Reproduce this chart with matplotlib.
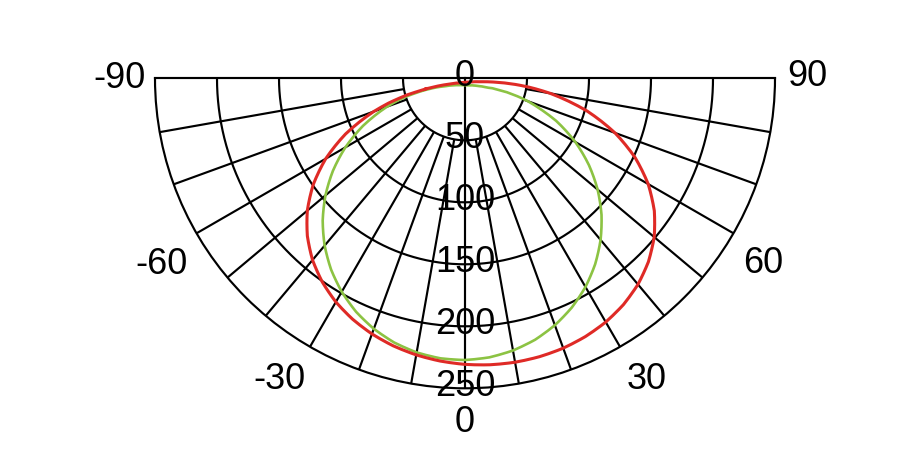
import numpy as np
import matplotlib
matplotlib.use('Agg')
import matplotlib.pyplot as plt
from matplotlib.transforms import offset_copy

plt.rcParams['font.family'] = ['Liberation Sans', 'DejaVu Sans']
plt.rcParams['font.size'] = 26

# ---------------- data ----------------
r_max = 250
ring_values = [50, 100, 150, 200]
radial_label_values = [0, 50, 100, 150, 200, 250]
radial_labels = ['0', '50', '100', '150', '200', '250']
spoke_angles = [-80, -70, -60, -50, -40, -30, -20, -10, 0, 10, 20, 30, 40, 50, 60, 70, 80]

angle_labels = ['-90', '-60', '-30', '0', '30', '60', '90']
angle_label_theta = [-90.6, -59.0, -32.0, 0.0, 31.4, 58.6, 90.8]
angle_label_r = [279.0, 285.5, 283.0, 275.0, 281.0, 281.5, 276.0]

# red curve (closed outline, angle in degrees, intensity)
red_theta = [-74.9, -74, -72, -70, -65, -60, -55, -50, -45, -40, -35, -30, -25, -20,
             -15, -10, -5, 0, 5, 10, 15, 20, 25, 30, 35, 40, 45, 50, 55, 60, 65, 70,
             75, 80, 82, 83, 83.34,
             83, 82, 80, 75, 70, 60, 45, 30, 0, -30, -45, -60, -65, -70, -72, -74, -74.9]
red_value = [32.5, 48.5, 65.0, 78.3, 106.3, 129.7, 149.4, 166.0, 179.8, 191.3, 200.6,
             208.3, 214.4, 219.4, 223.4, 226.5, 228.9, 230.7, 231.9, 232.5, 232.4, 231.6,
             229.8, 227.0, 222.8, 217.0, 209.2, 199.2, 186.4, 170.6, 151.4, 128.7, 101.9,
             69.7, 53.5, 42.1, 33.0,
             25.7, 20.2, 15.4, 10.4, 8.0, 5.7, 4.2, 3.5, 3.1, 3.8, 4.8, 7.5, 9.4, 13.2,
             16.0, 21.7, 32.5]

# green curve (closed outline)
green_theta = [-73.75, -73, -72, -70, -65, -60, -55, -50, -45, -40, -35, -30, -25, -20,
               -15, -10, -5, 0, 5, 10, 15, 20, 25, 30, 35, 40, 45, 50, 55, 60, 65, 70,
               71, 71.6,
               71, 70, 65, 60, 55, 50, 45, 30, 0, -30, -45, -50, -55, -60, -65, -70,
               -72, -73, -73.75]
green_value = [35.6, 47.5, 55.1, 67.0, 90.8, 111.4, 130.0, 146.9, 162.3, 176.1, 188.3,
               198.8, 207.8, 215.0, 220.6, 224.5, 226.7, 227.2, 225.9, 222.9, 218.3,
               211.9, 203.9, 194.3, 183.0, 170.1, 155.7, 139.6, 122.0, 102.7, 81.0,
               53.9, 45.9, 35.6,
               27.6, 23.4, 15.6, 12.3, 10.3, 9.0, 8.0, 6.4, 5.4, 6.2, 7.7, 8.5, 9.7,
               11.3, 13.9, 18.9, 23.0, 26.7, 35.6]

red_color = '#df2a26'
green_color = '#8cc343'

# ---------------- figure ----------------
W, H = 916, 454
fig = plt.figure(figsize=(W / 100, H / 100), dpi=100)
fig.patch.set_facecolor('white')
# square axes box: the half-disc wedge is centred inside it
cx, top, R = 465.0, 78.3, 310.0
side = 2 * R
cy = top + R / 2
ax = fig.add_axes([(cx - R) / W, (H - (cy + R)) / H, side / W, side / H],
                  projection='polar')
ax.set_theta_zero_location('S')
ax.set_theta_direction(1)
ax.set_thetamin(-90)
ax.set_thetamax(90)
ax.set_ylim(0, r_max)
ax.set_xticks([])
ax.set_yticks([])
ax.grid(False)

grid_lw = 1.55
for name in ['polar', 'start', 'end']:
    ax.spines[name].set_linewidth(grid_lw)
    ax.spines[name].set_color('black')
ax.spines['inner'].set_visible(False)

th = np.radians(np.linspace(-90, 90, 721))
for rv in ring_values:
    ax.plot(th, np.full_like(th, rv), color='black', lw=grid_lw, zorder=2)

for a in spoke_angles:
    r0 = 0 if a == 0 else ring_values[0]
    ax.plot([np.radians(a)] * 2, [r0, r_max], color='black', lw=grid_lw, zorder=2,
            solid_capstyle='butt')

g_line, = ax.plot(np.radians(green_theta), green_value, color=green_color, lw=1.9,
                  zorder=4, solid_joinstyle='round')
r_line, = ax.plot(np.radians(red_theta), red_value, color=red_color, lw=2.2,
                  zorder=5, solid_joinstyle='round')
# let the polar transform follow the curve between samples (theta/r interpolation)
for ln in (g_line, r_line):
    ln.get_path()._interpolation_steps = 8

# radial labels
half_cap = 12.9
rad_tr = offset_copy(ax.transData, fig=fig, x=0, y=-(half_cap - 5), units='dots')
for v, lab in zip(radial_label_values, radial_labels):
    ax.text(0, v, lab, transform=rad_tr, ha='center', va='baseline',
            color='black', zorder=6, clip_on=False)

ang_tr = offset_copy(ax.transData, fig=fig, x=0, y=-half_cap, units='dots')
for t, r, lab in zip(angle_label_theta, angle_label_r, angle_labels):
    ax.text(np.radians(t), r, lab, transform=ang_tr, ha='center', va='baseline',
            color='black', clip_on=False)

fig.savefig('out.png', dpi=100, facecolor='white')
